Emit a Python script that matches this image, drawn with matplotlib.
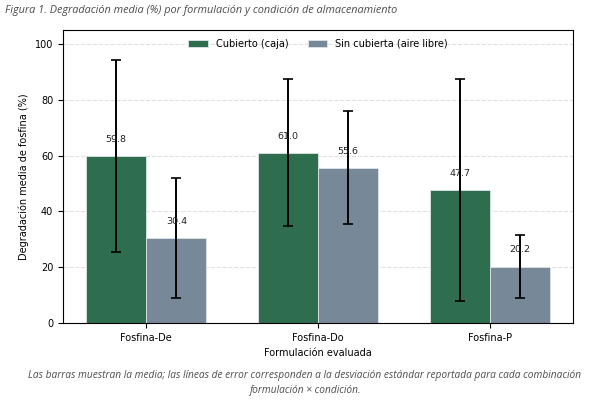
import matplotlib
matplotlib.use('Agg')
import matplotlib.pyplot as plt
import numpy as np

formulaciones = ['Fosfina-De', 'Fosfina-Do', 'Fosfina-P']
cubierto_media = [59.8, 61.0, 47.7]
cubierto_sd = [34.5, 26.3, 39.8]
sin_cubierta_media = [30.4, 55.6, 20.2]
sin_cubierta_sd = [21.6, 20.2, 11.2]

color_cub = '#2e6e4e'
color_sin = '#778899'

fig = plt.figure(figsize=(6, 4), dpi=100)
ax = fig.add_axes([0.105, 0.1925, 0.85, 0.7325])

x = np.arange(len(formulaciones))
w = 0.35
err_kw = dict(ecolor='black', elinewidth=1.4, capsize=3.5, capthick=1.2)

b1 = ax.bar(x - w / 2, cubierto_media, w, yerr=cubierto_sd, color=color_cub,
            edgecolor='#dfe5e8', linewidth=0.6, label='Cubierto (caja)', error_kw=err_kw)
b2 = ax.bar(x + w / 2, sin_cubierta_media, w, yerr=sin_cubierta_sd, color=color_sin,
            edgecolor='#dfe5e8', linewidth=0.6, label='Sin cubierta (aire libre)', error_kw=err_kw)

# etiquetas de valor
for bars, vals in ((b1, cubierto_media), (b2, sin_cubierta_media)):
    for rect, v in zip(bars, vals):
        ax.text(rect.get_x() + rect.get_width() / 2, v + 6, f'{v:.1f}',
                ha='center', va='center', fontsize=6.8, color='#222222')

ax.set_ylim(0, 105)
ax.set_xticks(x)
ax.set_xticklabels(formulaciones, fontsize=7)
ax.tick_params(axis='y', labelsize=7)
ax.set_xlabel('Formulación evaluada', fontsize=7)
ax.set_ylabel('Degradación media de fosfina (%)', fontsize=7)
ax.yaxis.grid(True, linestyle='--', color='#cccccc', alpha=0.6, linewidth=0.8)
ax.set_axisbelow(True)
ax.legend(loc='upper center', ncol=2, frameon=False, fontsize=7,
          bbox_to_anchor=(0.5, 1.0))

fig.text(0.008, 0.975, 'Figura 1. Degradación media (%) por formulación y condición de almacenamiento',
         ha='left', va='center', fontsize=7.8, style='italic', color='#4d4d4d', family='Open Sans')
fig.text(0.508, 0.042,
         'Las barras muestran la media; las líneas de error corresponden a la desviación estándar reportada para cada combinación\nformulación × condición.',
         ha='center', va='center', fontsize=7.3, style='italic', color='#4d4d4d',
         family='Open Sans', linespacing=1.45)

fig.savefig('out.png', dpi=100)
